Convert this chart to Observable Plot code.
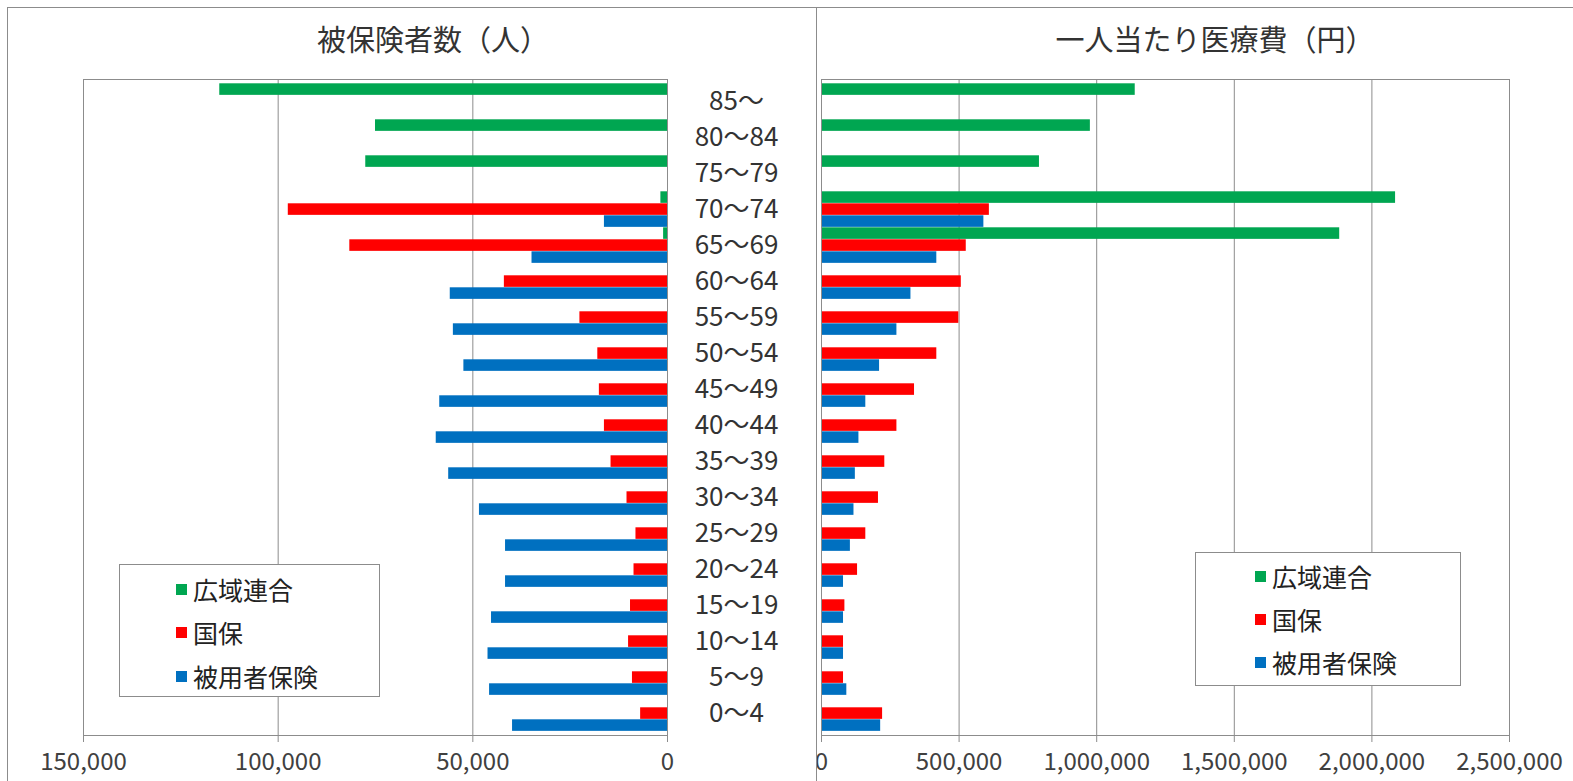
<!DOCTYPE html>
<html><head><meta charset="utf-8">
<script src="https://cdn.jsdelivr.net/npm/d3@7"></script>
<script src="https://cdn.jsdelivr.net/npm/@observablehq/plot@0.6"></script>
<style>
body{margin:0;background:#fff;font-family:"Noto Sans CJK JP","Noto Sans",sans-serif;}
#wrap{position:relative;width:1573px;height:781px;overflow:hidden;background:#fff;}
.frame{position:absolute;border:1px solid #8c8c8c;box-sizing:border-box;}
.title{position:absolute;top:18px;font-size:29px;color:#333;white-space:nowrap;transform:translateX(-50%);line-height:40px;}
.legend{position:absolute;border:1px solid #8c8c8c;background:#fff;box-sizing:border-box;}
.item{position:absolute;height:30px;display:flex;align-items:center;font-size:25px;color:#222;white-space:nowrap;}
.sw{display:inline-block;width:11px;height:11px;margin-right:6px;}
#leftHolder{position:absolute;left:0;top:0;width:815px;height:781px;}
#rightHolder{position:absolute;left:817px;top:0;width:756px;height:781px;overflow:hidden;}
</style>
</head><body>
<div id="wrap">
  <div class="frame" style="left:7px;top:7px;width:810px;height:800px;"></div>
  <div class="frame" style="left:816px;top:7px;width:800px;height:800px;"></div>
  <div id="leftHolder"></div>
  <div id="rightHolder"></div>
  <div class="title" id="t1" style="left:433px;"></div>
  <div class="title" id="t2" style="left:1215px;"></div>
  <div class="legend" id="lg1" style="left:119px;top:564px;width:261px;height:133px;"></div>
  <div class="legend" id="lg2" style="left:1195px;top:552px;width:266px;height:134px;"></div>
</div>
<script>
// ---- data ----
const ages = ["85～","80～84","75～79","70～74","65～69","60～64","55～59","50～54","45～49","40～44","35～39","30～34","25～29","20～24","15～19","10～14","5～9","0～4"];
const seriesNames = ["広域連合","国保","被用者保険"];
const seriesColors = ["#00A651","#FF0000","#0070C0"];
const titles = ["被保険者数（人）","一人当たり医療費（円）"];

// 被保険者数（人）
const popKouiki   = [115000, 75000, 77500, 1700, 1000, null, null, null, null, null, null, null, null, null, null, null, null, null];
const popKokuho   = [null, null, null, 97400, 81600, 41900, 22500, 17900, 17500, 16200, 14500, 10400, 8100, 8600, 9500, 10000, 9000, 6900];
const popHiyousha = [null, null, null, 16200, 34800, 55800, 55000, 52300, 58500, 59400, 56200, 48300, 41600, 41600, 45200, 46100, 45700, 39800];

// 一人当たり医療費（円）
const costKouiki   = [1140000, 977000, 792000, 2086000, 1883000, null, null, null, null, null, null, null, null, null, null, null, null, null];
const costKokuho   = [null, null, null, 610000, 526000, 508000, 499000, 419000, 338000, 274000, 230000, 207000, 161000, 131000, 85000, 80000, 80000, 222000];
const costHiyousha = [null, null, null, 590000, 419000, 325000, 274000, 211000, 161000, 136000, 123000, 118000, 105000, 80000, 80000, 80000, 92000, 215000];

const popTicks = [0, 50000, 100000, 150000];
const costTicks = [0, 500000, 1000000, 1500000, 2000000, 2500000];

// ---- build tables ----
function table(arrs) {
  const out = [];
  arrs.forEach((arr, si) => arr.forEach((v, i) => {
    if (v != null) out.push({age: ages[i], series: seriesNames[si], value: v});
  }));
  return out;
}
const popData = table([popKouiki, popKokuho, popHiyousha]);
const costData = table([costKouiki, costKokuho, costHiyousha]);

const H = 781, MT = 79, MB = 46;
const band = (H - MT - MB) / ages.length;
const barH = 12;
function barMarks(data) {
  return seriesNames.map((s, k) => Plot.barX(data.filter(d => d.series === s), {
    x: "value", y: "age", fill: seriesColors[k],
    insetTop: 0.3 + k * barH, insetBottom: band - 0.3 - (k + 1) * barH
  }));
}
const font = '"Noto Sans CJK JP","Noto Sans",sans-serif';
const fmt = d3.format(",");

const left = Plot.plot({
  width: 815, height: H,
  marginLeft: 83, marginRight: 148, marginTop: MT, marginBottom: MB,
  style: {fontFamily: font, background: "transparent", color: "#404040", overflow: "visible"},
  x: {domain: [0, 150000], reverse: true, label: null},
  y: {domain: ages, padding: 0, label: null},
  marks: [
    Plot.ruleX(popTicks, {stroke: "#8c8c8c"}),
    ...barMarks(popData),
    Plot.frame({stroke: "#8c8c8c"}),
    Plot.axisX({ticks: popTicks, tickFormat: fmt, tickSize: 7, tickPadding: 10, fontSize: 24, stroke: "#8c8c8c", fill: "#404040", label: null}),
    Plot.axisY({anchor: "right", tickSize: 0, tickPadding: 0, textAnchor: "middle", dx: 69, fontSize: 26, fill: "#333", label: null})
  ]
});
document.getElementById("leftHolder").appendChild(left);

const right = Plot.plot({
  width: 756, height: H,
  marginLeft: 4, marginRight: 64, marginTop: MT, marginBottom: MB,
  style: {fontFamily: font, background: "transparent", color: "#404040", overflow: "visible"},
  x: {domain: [0, 2500000], label: null},
  y: {domain: ages, padding: 0, label: null, axis: null},
  marks: [
    Plot.ruleX(costTicks, {stroke: "#8c8c8c"}),
    ...barMarks(costData),
    Plot.frame({stroke: "#8c8c8c"}),
    Plot.axisX({ticks: costTicks, tickFormat: fmt, tickSize: 7, tickPadding: 10, fontSize: 24, stroke: "#8c8c8c", fill: "#404040", label: null})
  ]
});
document.getElementById("rightHolder").appendChild(right);

document.getElementById("t1").textContent = titles[0];
document.getElementById("t2").textContent = titles[1];

function legend(id, rows, swLeft) {
  const el = document.getElementById(id);
  seriesNames.forEach((s, k) => {
    const it = document.createElement("div");
    it.className = "item";
    it.style.left = swLeft + "px";
    it.style.top = (rows[k] - 15) + "px";
    const sw = document.createElement("span");
    sw.className = "sw"; sw.style.background = seriesColors[k];
    it.appendChild(sw);
    it.appendChild(document.createTextNode(s));
    el.appendChild(it);
  });
}
legend("lg1", [24, 67, 111], 56);
legend("lg2", [23, 66, 109], 59);
</script>
</body></html>
